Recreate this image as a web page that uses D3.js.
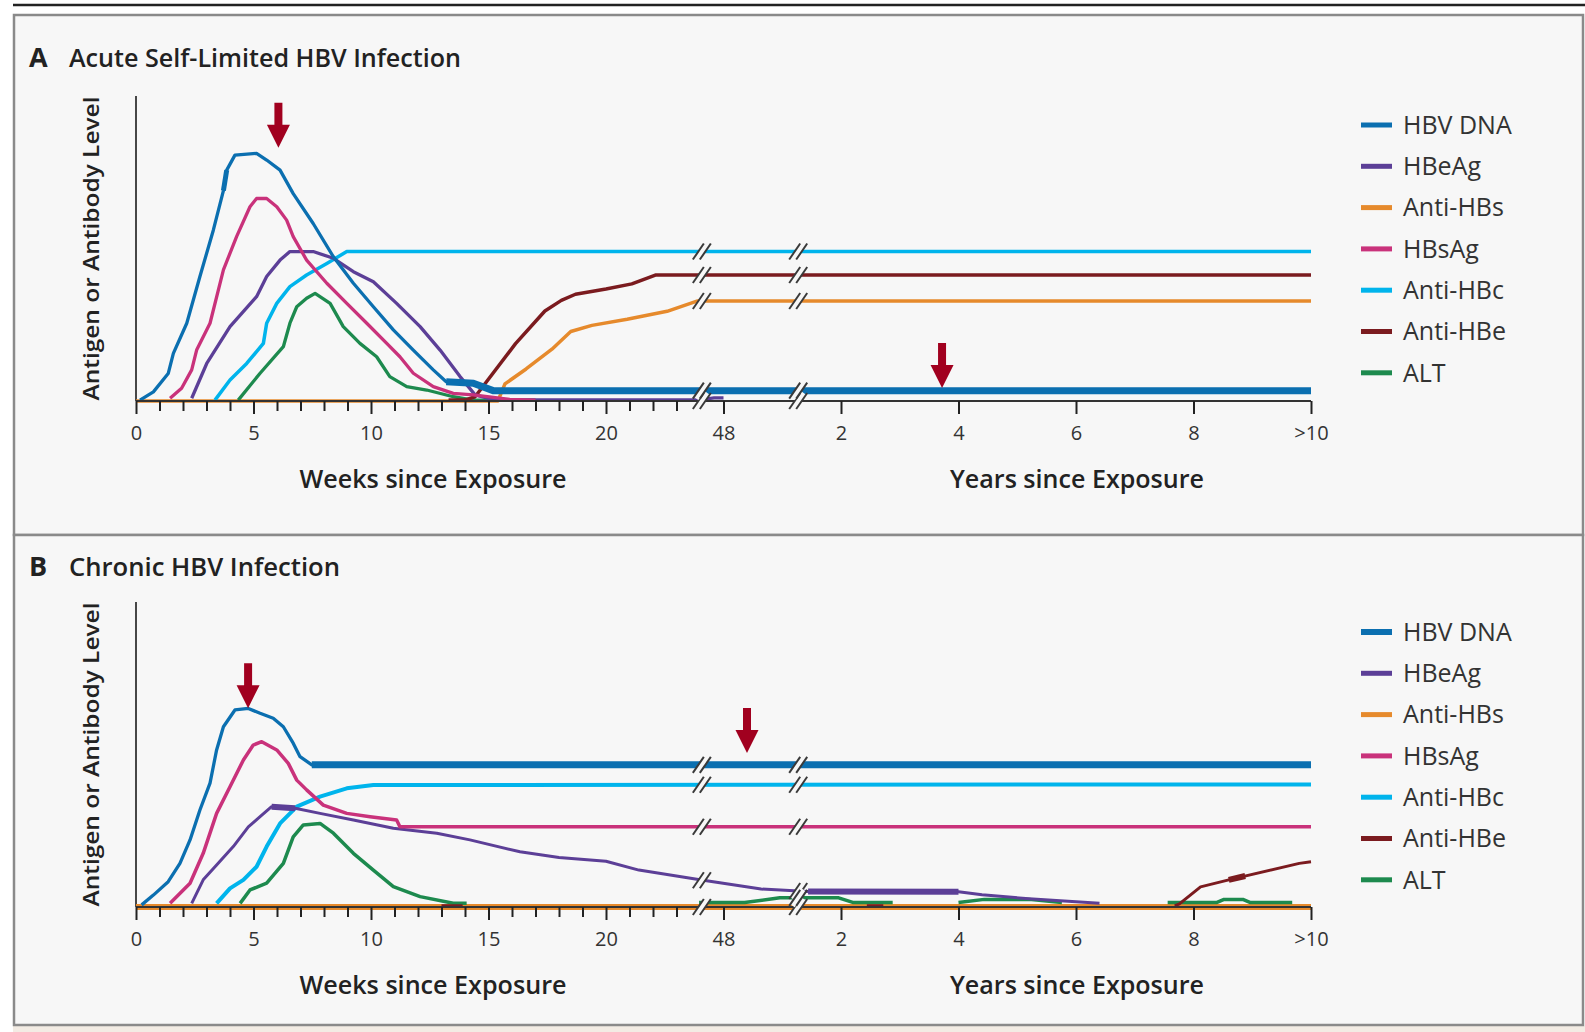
<!DOCTYPE html>
<html><head><meta charset="utf-8">
<script src="https://cdn.jsdelivr.net/npm/d3@7"></script>
<style>body{margin:0;background:#fff}svg{display:block}</style>
</head><body><svg id="c" width="1585" height="1032"></svg>
<script>
// ---------- DATA (x in axis units: 0-25 = weeks up to "48"; 25-50 = years, 2.5 units per year) ----------
const seriesNames = ["HBV DNA","HBeAg","Anti-HBs","HBsAg","Anti-HBc","Anti-HBe","ALT"];
const seriesKeys  = ["hbvDna","hbeAg","antiHbs","hbsAg","antiHbc","antiHbe","alt"];
const tickMajorPos = [0,5,10,15,20,25,30,35,40,45,50];
const tickLabels   = ["0","5","10","15","20","48","2","4","6","8",">10"];
const tickMinorPos = [1,2,3,4,6,7,8,9,11,12,13,14,16,17,18,19,21,22,23];
const breakPos = [24.1, 28.2];

// Panel A – acute self-limited
const acuteHbvDna = [[0.17,0.3],[0.74,3],[1.37,9],[1.59,15.6],[2.16,25.5],[2.72,40.8],[3.29,56],[3.72,69],[3.86,75.7],[4.21,80.6],[5.13,81.2],[5.56,79],[6.13,75.7],[6.69,68],[7.54,58.2],[8.40,47.3],[9.25,38.6],[10.1,30.9],[10.95,23.3],[11.8,16.7],[12.65,10.2],[13.2,6.3],[14.35,5.8],[15.2,3.4],[50,3.4]];
const acuteHbeAg = [[2.37,0.9],[3.01,12.3],[4.0,24.4],[5.13,34.2],[5.56,40.8],[6.13,46.2],[6.55,49],[7.54,49],[8.40,46.8],[9.25,42.4],[10.1,39.1],[11.09,32],[12.09,24.4],[12.94,16.7],[13.79,8],[14.43,2],[15.2,0.4],[24.0,0.4],[24.6,1],[25,1]];
const acuteAntiHbs = [[0,0],[15.4,0],[15.7,5.6],[16.6,10.5],[17.7,17],[18.5,22.8],[19.4,24.8],[20.9,26.8],[22.6,29.4],[23.9,32.8],[50,32.8]];
const acuteHbsAg = [[1.45,0.9],[1.94,4.2],[2.37,10.2],[2.58,16.7],[3.15,25.5],[3.72,43],[4.28,53.9],[4.85,63.7],[5.13,66.4],[5.56,66.4],[5.99,63.7],[6.41,59.3],[6.69,53.9],[7.26,46.2],[8.12,38.6],[8.97,32],[9.82,25.5],[10.67,18.9],[11.23,14.5],[11.8,9.1],[12.65,4.7],[13.5,2.5],[14.35,2],[15.9,0.5],[17,0.3]];
const acuteAntiHbc = [[3.36,0.3],[4.0,6.9],[4.71,12.3],[5.42,18.9],[5.56,25.5],[5.99,32],[6.55,37.5],[7.26,41.3],[8.12,45.1],[8.97,49],[50,49]];
const acuteAntiHbe = [[13.3,0.3],[14.0,0.3],[14.43,1.4],[16.15,18.8],[17.4,29.5],[18.1,33],[18.7,35],[20.0,36.7],[21.1,38.4],[22.1,41.3],[50,41.3]];
const acuteAlt = [[4.35,0.3],[5.28,9.1],[6.27,17.8],[6.55,25.5],[6.84,30.9],[7.26,33.7],[7.62,35.3],[8.26,32],[8.82,24.4],[9.53,18.9],[10.24,14.5],[10.8,8],[11.52,4.7],[12.37,3.6],[13.5,1.4],[14.35,0.3],[17,0.3]];
const acuteArrows = [[6.06,83],[34.3,4.3]];

// Panel B – chronic
const chronicHbvDna = [[0.24,0.7],[0.74,3.9],[1.37,8.3],[1.87,14.3],[2.30,22],[2.72,31.8],[3.15,40.6],[3.43,51.5],[3.72,59.1],[4.21,64.6],[4.78,65.1],[5.28,63.5],[5.84,61.9],[6.27,59.1],[6.69,53.7],[6.98,49.3],[7.48,46.6],[50,46.6]];
const chronicHbeAg = [[2.37,1.2],[2.86,8.9],[3.43,13.8],[4.14,19.8],[4.78,26.3],[5.28,29.6],[5.77,32.9],[6.77,32.4],[7.83,30.7],[9.25,28.5],[10.95,25.8],[12.8,24.2],[14.21,22],[16.34,18.1],[18,16.2],[20,15],[21.4,12.1],[24,8.9],[26.6,5.9],[28.6,5.1],[35,5],[36,4],[38,2.7],[41,1.2]];
const chronicAntiHbs = [[0,0],[50,0]];
const chronicHbsAg = [[1.45,1.2],[2.30,7.8],[2.86,17.6],[3.43,30.7],[4.0,39.4],[4.57,48.2],[4.99,53.1],[5.35,54.2],[5.99,51.5],[6.48,47.1],[6.84,41.6],[7.26,38.4],[7.97,33.4],[8.97,30.7],[9.96,29.6],[11.09,28.5],[11.23,26.3],[50,26.3]];
const chronicAntiHbc = [[3.43,1.2],[4.0,6.1],[4.57,8.9],[5.13,13.2],[5.56,19.8],[6.13,27.4],[6.84,32.9],[7.83,36.2],[8.97,38.9],[10.1,40],[50,40.2]];
const chronicAntiHbe = [[13.0,0.4],[13.9,0.4],null,[31.1,0.4],[31.8,0.4],null,[44.2,0.4],[44.4,1],[45.3,6.6],[46.5,8.9],[49.5,14.3],[50,14.8]];
const chronicAlt = [[4.43,1.2],[4.85,5.6],[5.56,7.8],[6.27,14.3],[6.69,23],[7.12,26.9],[7.83,27.4],[8.40,24.2],[9.25,17.6],[10.1,12.1],[10.95,6.7],[12.09,3.4],[13.5,1.2],[14.07,1.2],null,[23.96,1.5],[25.9,1.5],[27.4,3],[29.9,3],[30.5,1.5],[32.2,1.5],null,[35.0,1.5],[36.1,2.5],[38,2.5],[39.4,1.5],null,[43.9,1.5],[46,1.5],[46.3,2.5],[47.1,2.5],[47.4,1.5],[49.2,1.5]];
const chronicArrows = [[4.77,65.2],[26.0,50.5]];

// ---------- STYLE ----------
const colors = {hbvDna:"#0b6fb0", hbeAg:"#5c3f97", antiHbs:"#e68a2c", hbsAg:"#c9327b", antiHbc:"#00b4ec", antiHbe:"#7b1b1f", alt:"#1d8a4e"};
const arrowColor = "#a1001f";
const font = "'Open Sans', 'DejaVu Sans', sans-serif";

const panels = [
  {letter:"A", title:"Acute Self-Limited HBV Infection", titleLen:392, top:15, bottom:535, base:401, axisTop:96,
   data:{hbvDna:acuteHbvDna, hbeAg:acuteHbeAg, antiHbs:acuteAntiHbs, hbsAg:acuteHbsAg, antiHbc:acuteAntiHbc, antiHbe:acuteAntiHbe, alt:acuteAlt},
   widths:{hbvDna:3.3, hbeAg:3.3, antiHbs:3.5, hbsAg:3.3, antiHbc:3.5, antiHbe:3.5, alt:3.3},
   thick:[{key:"hbvDna", from:13.2, to:50, w:7},{key:"hbvDna", from:3.72, to:3.86, w:5}],
   arrows:acuteArrows, titleY:67, legendTop:125},
  {letter:"B", title:"Chronic HBV Infection", titleLen:271, top:535, bottom:1025, base:907, axisTop:602,
   data:{hbvDna:chronicHbvDna, hbeAg:chronicHbeAg, antiHbs:chronicAntiHbs, hbsAg:chronicHbsAg, antiHbc:chronicAntiHbc, antiHbe:chronicAntiHbe, alt:chronicAlt},
   widths:{hbvDna:3.3, hbeAg:3, antiHbs:6, hbsAg:3.5, antiHbc:4, antiHbe:3, alt:3.5},
   thick:[{key:"hbvDna", from:7.48, to:50, w:7},{key:"hbeAg", from:28.6, to:35, w:6},{key:"hbeAg", from:5.77, to:6.77, w:6},{key:"antiHbe", from:46.5, to:47.2, w:6}],
   arrows:chronicArrows, titleY:576, legendTop:632}
];
const drawOrder = ["antiHbs","alt","antiHbe","antiHbc","hbeAg","hbsAg","hbvDna"];

const svg = d3.select("#c");
svg.append("rect").attr("width",1585).attr("height",1032).attr("fill","#fff");
svg.append("rect").attr("x",13).attr("y",1026).attr("width",1572).attr("height",6).attr("fill","#f3ece4");
svg.append("line").attr("x1",13).attr("x2",1585).attr("y1",5).attr("y2",5).attr("stroke","#222").attr("stroke-width",2.5);

const x = d3.scaleLinear().domain([0,50]).range([136,1311]);

function interp(series, u){
  const pts = series.filter(d=>d);
  for(let i=1;i<pts.length;i++){
    if(pts[i-1][0]<=u && pts[i][0]>=u){
      const t=(u-pts[i-1][0])/(pts[i][0]-pts[i-1][0]);
      return pts[i-1][1]+t*(pts[i][1]-pts[i-1][1]);
    }
  }
  return null;
}
function segment(series, from, to){
  const pts = series.filter(d=>d && d[0]>from && d[0]<to);
  return [[from, interp(series,from)], ...pts, [to, interp(series,to)]];
}

panels.forEach(p=>{
  const g = svg.append("g");
  g.append("rect").attr("x",14).attr("y",p.top).attr("width",1569).attr("height",p.bottom-p.top)
    .attr("fill","#f7f7f7").attr("stroke","#8a8a8a").attr("stroke-width",2.5);
  const y = d3.scaleLinear().domain([0,100]).range([p.base, p.axisTop]);
  const line = d3.line().defined(d=>d).x(d=>x(d[0])).y(d=>y(d[1]));

  // title
  g.append("text").attr("x",29).attr("y",p.titleY).attr("font-family",font).attr("font-weight",700).attr("font-size",27).attr("fill","#222").text(p.letter);
  g.append("text").attr("x",69).attr("y",p.titleY).attr("font-family",font).attr("font-weight",600).attr("font-size",26)
    .attr("fill","#222").attr("textLength",p.titleLen).attr("lengthAdjust","spacingAndGlyphs").text(p.title);

  // y axis label
  g.append("text").attr("transform",`translate(91,${(p.base+p.axisTop)/2}) rotate(-90)`).attr("text-anchor","middle")
    .attr("dy","0.35em").attr("font-family",font).attr("font-weight",600).attr("font-size",22).attr("fill","#222")
    .attr("textLength",304).attr("lengthAdjust","spacingAndGlyphs").text("Antigen or Antibody Level");

  // y axis line
  g.append("line").attr("x1",136).attr("x2",136).attr("y1",p.axisTop).attr("y2",p.base).attr("stroke","#333").attr("stroke-width",1.8);

  // series
  drawOrder.forEach(k=>{
    g.append("path").datum(p.data[k]).attr("d",line).attr("fill","none").attr("stroke",colors[k])
      .attr("stroke-width",p.widths[k]).attr("stroke-linejoin","round").attr("stroke-linecap","butt");
  });
  // thicker stretches
  p.thick.forEach(tk=>{
    g.append("path").datum(segment(p.data[tk.key], tk.from, tk.to)).attr("d",line).attr("fill","none")
      .attr("stroke",colors[tk.key]).attr("stroke-width",tk.w);
  });

  // x axis
  const axMajor = d3.axisBottom(x).tickValues(tickMajorPos).tickSize(13).tickPadding(12)
    .tickFormat((d,i)=>tickLabels[i]);
  const axG = g.append("g").attr("transform",`translate(0,${p.base})`).call(axMajor);
  axG.select(".domain").attr("stroke","#333").attr("stroke-width",1.8).attr("d",`M136,0H1311`);
  axG.selectAll(".tick line").attr("stroke","#222").attr("stroke-width",2);
  axG.selectAll(".tick text").attr("font-family",font).attr("font-size",20).attr("fill","#333");
  const axMinor = d3.axisBottom(x).tickValues(tickMinorPos).tickSize(10).tickFormat("");
  const mG = g.append("g").attr("transform",`translate(0,${p.base})`).call(axMinor);
  mG.select(".domain").remove();
  mG.selectAll(".tick line").attr("stroke","#222").attr("stroke-width",2);

  // axis titles
  g.append("text").attr("x",433).attr("y",p.base+78).attr("text-anchor","middle").attr("dy","0.35em")
    .attr("font-family",font).attr("font-weight",600).attr("font-size",25).attr("fill","#222")
    .attr("textLength",267).attr("lengthAdjust","spacingAndGlyphs").text("Weeks since Exposure");
  g.append("text").attr("x",1077).attr("y",p.base+78).attr("text-anchor","middle").attr("dy","0.35em")
    .attr("font-family",font).attr("font-weight",600).attr("font-size",25).attr("fill","#222")
    .attr("textLength",254).attr("lengthAdjust","spacingAndGlyphs").text("Years since Exposure");

  // break marks
  breakPos.forEach(bu=>{
    const ys=[0];
    seriesKeys.forEach(k=>{ const v=interp(p.data[k],bu); if(v!==null && v>2.2) ys.push(v); });
    ys.forEach(v=>{
      const cx=x(bu), cy=y(v);
      const bg=g.append("g");
      bg.append("line").attr("x1",cx-6).attr("y1",cy+8).attr("x2",cx+5).attr("y2",cy-8)
        .attr("stroke","#f7f7f7").attr("stroke-width",5);
      [-3.5,3.5].forEach(dx=>{
        bg.append("line").attr("x1",cx-6+dx).attr("y1",cy+8).attr("x2",cx+5+dx).attr("y2",cy-8)
          .attr("stroke","#3a3a3a").attr("stroke-width",2);
      });
    });
  });

  // arrows
  p.arrows.forEach(a=>{
    const ax=x(a[0]), tip=y(a[1]);
    g.append("path").attr("d",`M${ax-4},${tip-45}H${ax+4}V${tip-23}H${ax+11.5}L${ax},${tip}L${ax-11.5},${tip-23}H${ax-4}Z`)
      .attr("fill",arrowColor);
  });

  // legend
  seriesKeys.forEach((k,i)=>{
    const ly = p.legendTop + i*41.3;
    g.append("line").attr("x1",1361).attr("x2",1392).attr("y1",ly).attr("y2",ly).attr("stroke",colors[k])
      .attr("stroke-width",(p.letter==="B"&&k==="hbvDna")?6:5);
    g.append("text").attr("x",1403).attr("y",ly).attr("dy","0.35em").attr("font-family",font).attr("font-size",25)
      .attr("fill","#333").text(seriesNames[i]);
  });
});
</script></body></html>
